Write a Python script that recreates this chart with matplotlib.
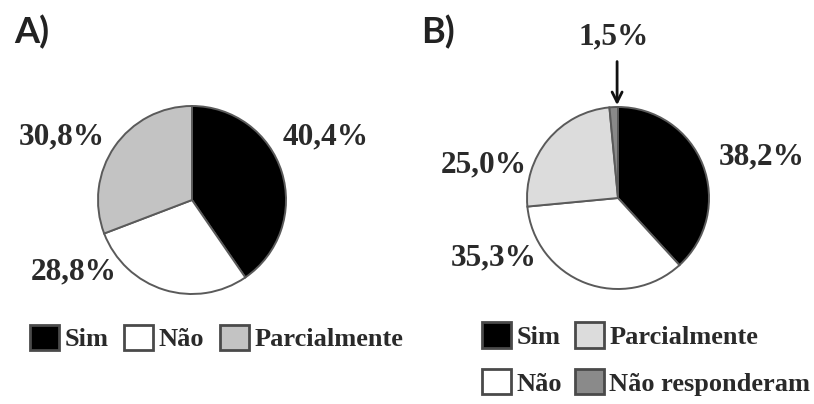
import matplotlib.pyplot as plt
from matplotlib.patches import Patch

# data
labels_a = ['Sim', 'Não', 'Parcialmente']
values_a = [40.4, 28.8, 30.8]
colors_a = ['#000000', '#ffffff', '#c3c3c3']

labels_b = ['Sim', 'Não', 'Parcialmente', 'Não responderam']
values_b = [38.2, 35.3, 25.0, 1.5]
colors_b = ['#000000', '#ffffff', '#dcdcdc', '#8a8a8a']

W, H = 814, 404
fig = plt.figure(figsize=(W / 100, H / 100), dpi=100)
fig.patch.set_facecolor('white')

serif = 'Liberation Serif'
edge = dict(edgecolor='#5a5a5a', linewidth=1.4)
txt_col = '#2a2a2a'


def pie_axes(cx, cy, r):
    # pixel centre / radius -> square axes
    return fig.add_axes([(cx - r) / W, (H - cy - r) / H, 2 * r / W, 2 * r / H])


def pct(v):
    return f'{v:.1f}%'.replace('.', ',')


# ---- A ----
axa = pie_axes(192, 200, 94)
axa.pie(values_a, colors=colors_a, startangle=90, counterclock=False,
        wedgeprops=edge)
axa.set_xlim(-1, 1)
axa.set_ylim(-1, 1)
pos_a = [(1.42, 0.67), (-1.26, -0.77), (-1.39, 0.67)]
for v, (x, y) in zip(values_a, pos_a):
    axa.text(x, y, pct(v), ha='center', va='center', fontsize=22.5,
             fontweight='bold', family=serif, color=txt_col)

fig.text(14 / W, 1 - 32 / H, 'A)', fontsize=26, fontweight='bold',
         family='Lato', va='center', ha='left', color='#222222')

# ---- B ----
axb = pie_axes(618, 198, 91)
axb.pie(values_b, colors=colors_b, startangle=90, counterclock=False,
        wedgeprops=edge)
axb.set_xlim(-1, 1)
axb.set_ylim(-1, 1)
pos_b = [(1.58, 0.45), (-1.37, -0.66), (-1.47, 0.36), (-0.05, 1.77)]
for v, (x, y) in zip(values_b, pos_b):
    axb.text(x, y, pct(v), ha='center', va='center', fontsize=22.5,
             fontweight='bold', family=serif, color=txt_col)
axb.annotate('', xy=(-0.01, 0.99), xytext=(-0.01, 1.53),
             arrowprops=dict(arrowstyle='->', lw=2, color='#111111',
                             mutation_scale=18),
             annotation_clip=False)

fig.text(421 / W, 1 - 32 / H, 'B)', fontsize=26, fontweight='bold',
         family='Lato', va='center', ha='left', color='#222222')

# ---- legends ----
leg_kw = dict(frameon=False, handlelength=1.1, handleheight=1.1,
              handletextpad=0.2, borderpad=0, borderaxespad=0,
              prop=dict(family=serif, weight='bold', size=19))
edge_leg = dict(edgecolor='#4a4a4a', linewidth=2)

h_a = [Patch(facecolor=c, **edge_leg) for c in colors_a]
la = fig.legend(h_a, labels_a, ncol=3, loc='center left',
                bbox_to_anchor=(30 / W, 1 - 338 / H), columnspacing=0.6,
                **leg_kw)
for t in la.get_texts():
    t.set_color(txt_col)

h_b = [Patch(facecolor=c, **edge_leg) for c in colors_b]
lb = fig.legend(h_b, labels_b, ncol=2, loc='center left',
                bbox_to_anchor=(482 / W, 1 - 359 / H), columnspacing=0.5,
                labelspacing=0.75, **leg_kw)
for t in lb.get_texts():
    t.set_color(txt_col)

fig.savefig('out.png', dpi=100, facecolor='white')
